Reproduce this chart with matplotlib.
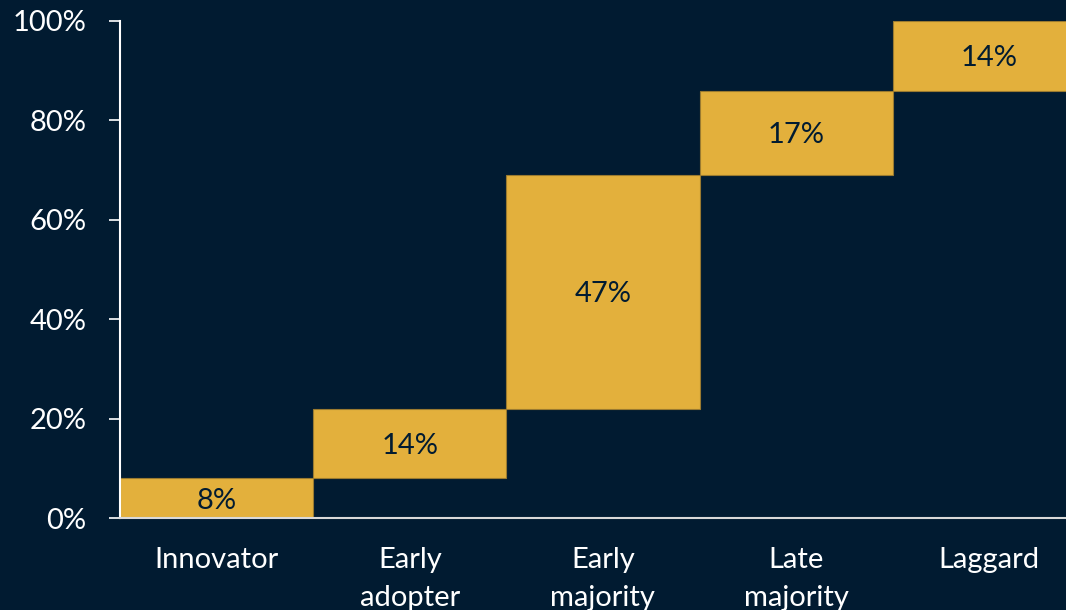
import matplotlib.pyplot as plt
from matplotlib.ticker import PercentFormatter

plt.rcParams['font.family'] = ['Lato', 'DejaVu Sans']

# Adoption segments and their share of the population (%)
categories = ["Innovator", "Early\nadopter", "Early\nmajority", "Late\nmajority", "Laggard"]
shares = [8, 14, 47, 17, 14]

bg = '#011b31'
gold = '#e3b03c'
text_light = '#ffffff'

# cumulative base of each floating bar
bases = []
running = 0
for s in shares:
    bases.append(running)
    running += s

fig = plt.figure(figsize=(10.66, 6.10), dpi=100, facecolor=bg)
ax = fig.add_axes([0.1126, 0.1508, 0.906, 0.8148], facecolor=bg)

x = range(len(categories))
ax.bar(x, shares, bottom=bases, width=1.0, color=gold, edgecolor='#9a7a30', linewidth=0.8, zorder=2)

for i, (s, b) in enumerate(zip(shares, bases)):
    ax.text(i, b + s / 2 - 0.5, f"{s}%", ha='center', va='center', fontsize=21, color=bg, zorder=3)

ax.set_xlim(-0.5, 4.5)
ax.set_ylim(0, 100)
ax.set_yticks([0, 20, 40, 60, 80, 100])
ax.yaxis.set_major_formatter(PercentFormatter(decimals=0))
ax.set_xticks(list(x))
ax.set_xticklabels(categories, fontsize=21, color=text_light, linespacing=1.55)
ax.tick_params(axis='x', length=0, pad=21)
ax.tick_params(axis='y', colors=text_light, labelsize=21, length=8, width=1.2, direction='out', pad=16)

for side in ['top', 'right']:
    ax.spines[side].set_visible(False)
ax.spines['left'].set_color(text_light)
ax.spines['left'].set_linewidth(1.5)
ax.spines['bottom'].set_color('#d9d9d9')
ax.spines['bottom'].set_linewidth(1.5)
ax.spines['left'].set_zorder(4)
ax.spines['bottom'].set_zorder(4)

fig.savefig('out.png', dpi=100, facecolor=bg)
